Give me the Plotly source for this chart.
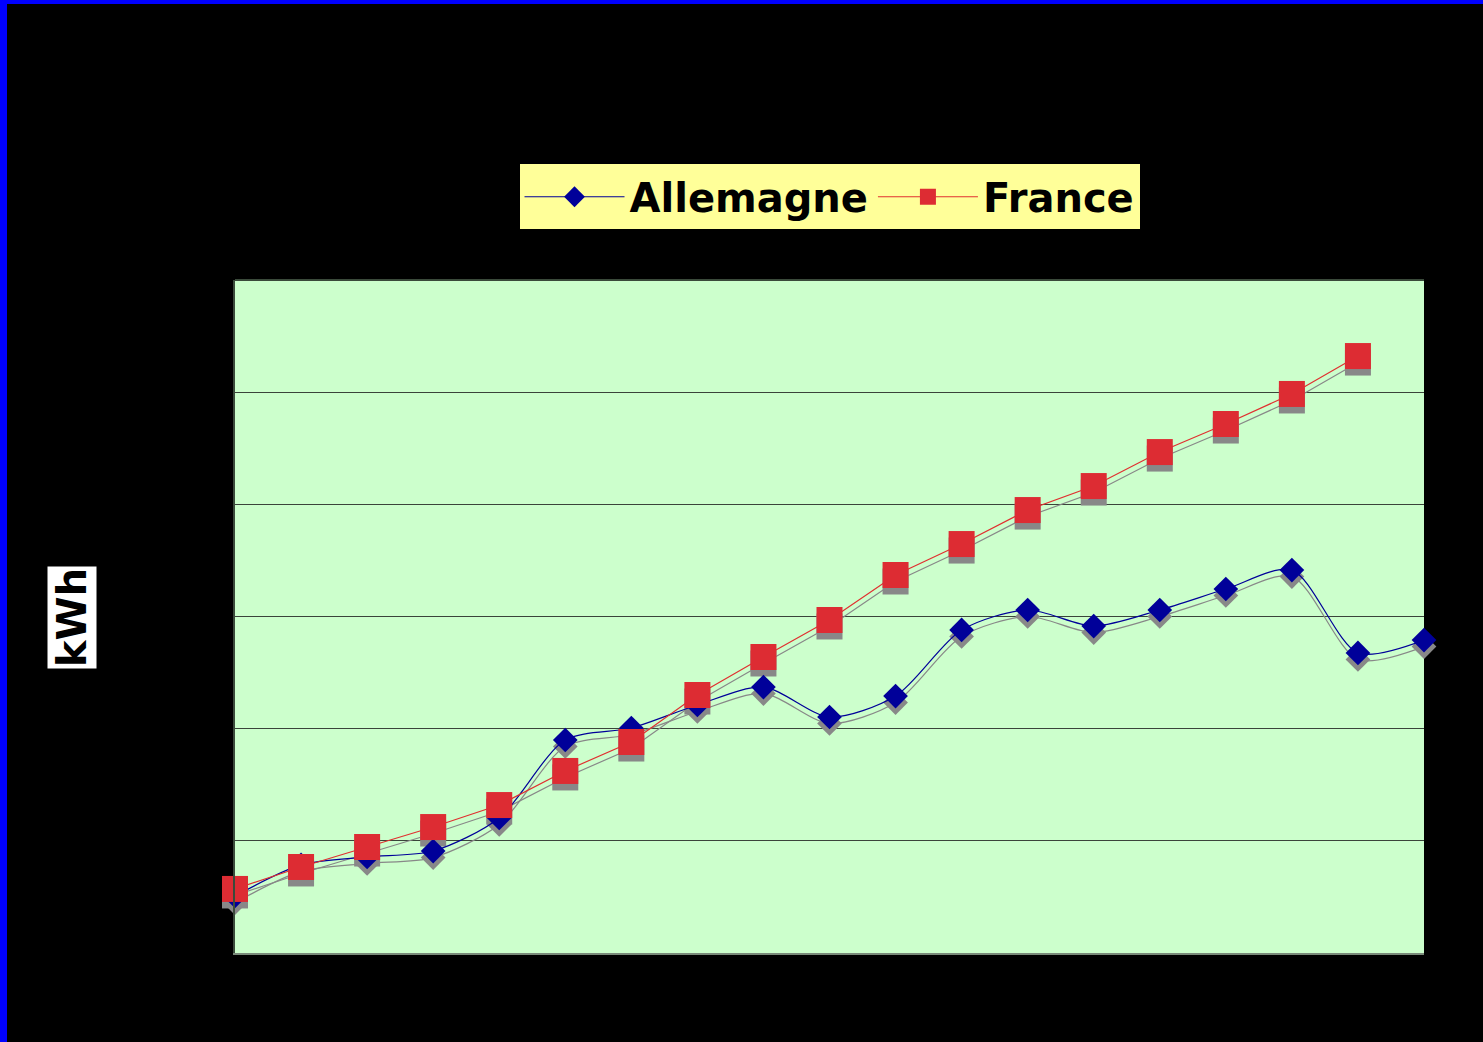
import plotly.graph_objects as go

# ---- data ----
years = list(range(1980, 1999))
allemagne = [508, 785, 856, 909, 1204, 1899, 2006, 2211, 2371, 2104, 2291,
             2880, 3058, 2915, 3058, 3245, 3414, 2675, 2790]
france = [571, 767, 945, 1123, 1319, 1623, 1881, 2300, 2639, 2969, 3370,
          3646, 3949, 4163, 4466, 4716, 4984, 5322]
y_ticks = [0, 1000, 2000, 3000, 4000, 5000, 6000]

SHADOW = 58  # vertical drop-shadow offset in data units

fig = go.Figure()

# drop shadows
fig.add_trace(go.Scatter(
    x=years, y=[v - SHADOW for v in allemagne], mode="lines+markers",
    line=dict(color="#888888", width=1.2, shape="spline", smoothing=0.8),
    marker=dict(symbol="diamond", size=19, color="#888888"),
    showlegend=False, hoverinfo="skip", cliponaxis=False))
fig.add_trace(go.Scatter(
    x=years[:len(france)], y=[v - SHADOW for v in france], mode="lines+markers",
    line=dict(color="#888888", width=1.2),
    marker=dict(symbol="square", size=26, color="#888888"),
    showlegend=False, hoverinfo="skip", cliponaxis=False))

# main series
fig.add_trace(go.Scatter(
    x=years, y=allemagne, name="Allemagne", mode="lines+markers",
    line=dict(color="#000099", width=1.2, shape="spline", smoothing=0.8),
    marker=dict(symbol="diamond", size=19, color="#000099",
                line=dict(color="#000099", width=0)), cliponaxis=False))
fig.add_trace(go.Scatter(
    x=years[:len(france)], y=france, name="France", mode="lines+markers",
    line=dict(color="#E03030", width=1.2),
    marker=dict(symbol="square", size=26, color="#DD2C33",
                line=dict(color="#DD2C33", width=0)), cliponaxis=False))

pw, ph = 1189, 673

fig.update_layout(
    width=1483, height=1042,
    paper_bgcolor="black", plot_bgcolor="#CCFFCC",
    margin=dict(l=235, r=59, t=280, b=89),
    font=dict(family="DejaVu Sans", color="black"),
    showlegend=True,
    legend=dict(orientation="h", x=0.5, xanchor="center", y=1.172, yanchor="top",
                bgcolor="#FFFF99", font=dict(size=40, family="DejaVu Sans", color="black",
                                             weight="bold"),
                itemwidth=100, borderwidth=0),
    xaxis=dict(range=[years[0], years[-1]], showgrid=False, zeroline=False,
               showline=True, linecolor="#7A8A7A", linewidth=2, mirror=False,
               tickfont=dict(color="black", size=14), ticks=""),
    yaxis=dict(range=[0, 6000], tickvals=y_ticks, showgrid=True, gridcolor="#3A443A",
               gridwidth=1, zeroline=False, showline=True, linecolor="#3A4A3A",
               linewidth=2, tickfont=dict(color="black", size=14), ticks=""),
    annotations=[dict(text="<b>kWh</b>", xref="paper", yref="paper",
                      x=(72 - 235) / pw, y=(953 - 617) / ph,
                      xanchor="center", yanchor="middle",
                      textangle=-90, showarrow=False, bgcolor="white",
                      font=dict(size=40, family="DejaVu Sans", color="black"),
                      borderpad=1)],
)

# top border line of the plot area
fig.add_shape(type="line", xref="paper", yref="paper", x0=0, x1=1, y0=1, y1=1,
              line=dict(color="#3A4A3A", width=2), layer="above")
# blue frame strips (top and left)
fig.add_shape(type="rect", xref="paper", yref="paper",
              x0=-235 / pw, x1=(1483 - 235) / pw,
              y0=(953 - 4) / ph, y1=953 / ph,
              fillcolor="#0000FF", line=dict(width=0), layer="above")
fig.add_shape(type="rect", xref="paper", yref="paper",
              x0=-235 / pw, x1=(-235 + 7) / pw,
              y0=-(1042 - 953) / ph, y1=953 / ph,
              fillcolor="#0000FF", line=dict(width=0), layer="above")

fig.write_html("out.html")
